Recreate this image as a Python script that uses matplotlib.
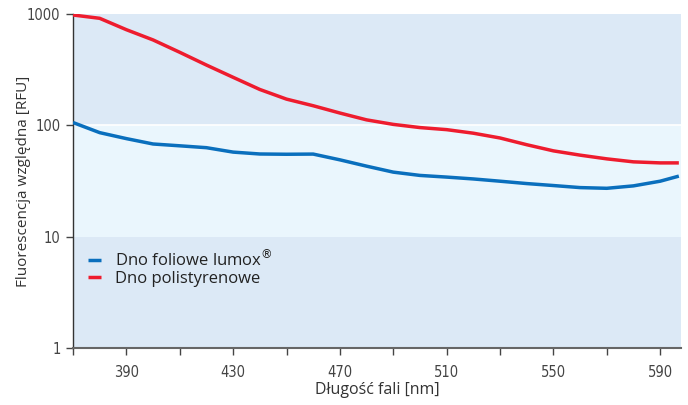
import matplotlib
matplotlib.use("Agg")
import matplotlib.pyplot as plt
from matplotlib.ticker import FixedLocator, NullLocator

# wavelength [nm]
wavelength = [370, 380, 390, 400, 410, 420, 430, 440, 450, 460, 470, 480, 490,
              500, 510, 520, 530, 540, 550, 560, 570, 580, 590, 597]
# Dno foliowe lumox
lumox = [106, 86, 76, 68, 65.5, 63, 57.5, 55.3, 55, 55.2, 49, 43, 38,
         35.5, 34.3, 33, 31.5, 30, 28.8, 27.6, 27.2, 28.6, 31.5, 35]
# Dno polistyrenowe
polystyrene = [980, 915, 723, 585, 453, 348, 270, 210, 172, 150, 129, 112, 102,
               95.5, 91.5, 85, 77, 67, 59, 54, 50, 47, 46, 46]

x_ticks = [390, 430, 470, 510, 550, 590]
x_minor = [370, 410, 450, 490, 530, 570]
y_ticks = [1, 10, 100, 1000]

band_dark = "#dce9f6"
band_light = "#eaf6fd"
blue = "#0a6fbd"
red = "#ee1c2e"

fig = plt.figure(figsize=(6.88, 4.05), dpi=100)
ax = fig.add_axes([0.1061, 0.1407, 0.8837, 0.8247])

ax.set_yscale("log")
ax.set_xlim(370, 597.8)
ax.set_ylim(1, 1000)

# tla pasm
ax.axhspan(100, 1000, color=band_dark, zorder=0, lw=0)
ax.axhspan(10, 100, color=band_light, zorder=0, lw=0)
ax.axhspan(1, 10, color=band_dark, zorder=0, lw=0)
ax.axhline(100, color="white", lw=1.2, zorder=1)

ax.plot(wavelength, lumox, color=blue, lw=2.5,
        label="Dno foliowe lumox$^{\\circledR}$",
        solid_capstyle="butt", zorder=3)
ax.plot(wavelength, polystyrene, color=red, lw=2.5, label="Dno polistyrenowe",
        solid_capstyle="butt", zorder=3)

ax.xaxis.set_major_locator(FixedLocator(x_ticks))
ax.xaxis.set_minor_locator(FixedLocator(x_minor))
ax.yaxis.set_major_locator(FixedLocator(y_ticks))
ax.yaxis.set_minor_locator(NullLocator())
ax.set_yticklabels([str(v) for v in y_ticks])

for s in ["top", "right"]:
    ax.spines[s].set_visible(False)
ax.spines["left"].set_color("#333333")
ax.spines["bottom"].set_color("#666666")
ax.spines["left"].set_linewidth(1.0)
ax.spines["bottom"].set_linewidth(1.5)

ax.tick_params(axis="both", which="both", length=5, width=1, color="#444444",
               labelcolor="#444444", labelsize=10.5)
for lab in ax.get_xticklabels() + ax.get_yticklabels():
    lab.set_fontfamily("DejaVu Sans")
    lab.set_fontstretch("condensed")
    lab.set_fontweight("light")
ax.tick_params(axis="x", pad=7)
ax.tick_params(axis="y", pad=4)

ax.set_xlabel("Długość fali [nm]", fontsize=11.5, color="#333333",
              family="Open Sans", labelpad=2)
ax.set_ylabel("Fluorescencja względna [RFU]", fontsize=11, color="#333333",
              family="Open Sans")
ax.yaxis.set_label_coords(-0.069, 0.5)

leg = ax.legend(loc="upper left", bbox_to_anchor=(0.0, 0.34), frameon=False,
                handlelength=0.8, handletextpad=0.8, labelspacing=0.02,
                prop={"family": "Open Sans", "size": 12})
for t in leg.get_texts():
    t.set_color("#222222")

fig.savefig("out.png", dpi=100)
